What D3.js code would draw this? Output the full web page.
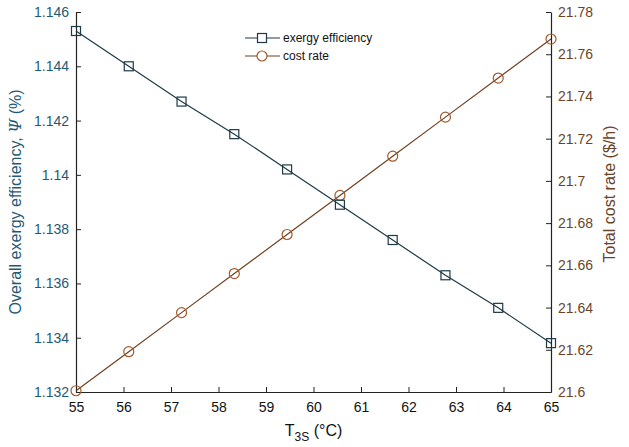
<!DOCTYPE html>
<html>
<head>
<meta charset="utf-8">
<script src="https://cdn.jsdelivr.net/npm/d3@7"></script>
<style>
  html, body { margin: 0; padding: 0; background: #fff; }
  svg { display: block; font-family: "Liberation Sans", Arial, sans-serif; }
</style>
</head>
<body>
<svg id="chart" width="629" height="447"></svg>
<script>
// Temperature T3S (°C) at ten evenly spaced points between 55 and 65
const temperature = [55, 56.111, 57.222, 58.333, 59.444, 60.556, 61.667, 62.778, 63.889, 65];
// Overall exergy efficiency (%)
const exergyEfficiency = [1.1453, 1.1440, 1.1427, 1.1415, 1.1402, 1.1389, 1.1376, 1.1363, 1.1351, 1.1338];
// Total cost rate ($/h)
const costRate = [21.6006, 21.6191, 21.6376, 21.6561, 21.6746, 21.6931, 21.7117, 21.7302, 21.7487, 21.7672];

const xTicks = [55, 56, 57, 58, 59, 60, 61, 62, 63, 64, 65];
const leftTicks = [1.132, 1.134, 1.136, 1.138, 1.14, 1.142, 1.144, 1.146];
const rightTicks = [21.6, 21.62, 21.64, 21.66, 21.68, 21.7, 21.72, 21.74, 21.76, 21.78];

const seriesNames = ["exergy efficiency", "cost rate"];

const leftColor = "#1f5a74";
const rightColor = "#6a4428";
const effLine = "#1d3a48";
const costLine = "#6e4122";
const costMarker = "#a05a2c";

const svg = d3.select("#chart");
const m = { left: 76, right: 551, top: 12, bottom: 392 };

const x = d3.scaleLinear().domain([55, 65]).range([m.left, m.right]);
const yL = d3.scaleLinear().domain([1.132, 1.146]).range([m.bottom, m.top]);
const yR = d3.scaleLinear().domain([21.6, 21.78]).range([m.bottom, m.top]);

const fmt = d => String(+d.toFixed(3));

// Bottom axis (ticks pointing into the plot)
const gx = svg.append("g").attr("transform", `translate(0,${m.bottom})`)
  .call(d3.axisBottom(x).tickValues(xTicks).tickSizeInner(-5).tickSizeOuter(0).tickPadding(10).tickFormat(d3.format("d")));
gx.select(".domain").attr("stroke", "#222").attr("stroke-width", 1.2);
gx.selectAll(".tick line").attr("stroke", "#222");
gx.selectAll("text").attr("font-size", 14).attr("fill", "#111");

// Left axis
const gl = svg.append("g").attr("transform", `translate(${m.left},0)`)
  .call(d3.axisLeft(yL).tickValues(leftTicks).tickSizeInner(-5).tickSizeOuter(0).tickPadding(7).tickFormat(fmt));
gl.select(".domain").attr("stroke", "#222").attr("stroke-width", 1.2);
gl.selectAll(".tick line").attr("stroke", "#222");
gl.selectAll("text").attr("font-size", 14).attr("fill", leftColor);

// Right axis
const gr = svg.append("g").attr("transform", `translate(${m.right},0)`)
  .call(d3.axisRight(yR).tickValues(rightTicks).tickSizeInner(-5).tickSizeOuter(0).tickPadding(7).tickFormat(fmt));
gr.select(".domain").attr("stroke", "#222").attr("stroke-width", 1.2);
gr.selectAll(".tick line").attr("stroke", "#222");
gr.selectAll("text").attr("font-size", 14).attr("fill", rightColor);

// Axis titles
const lt = svg.append("text")
  .attr("transform", `translate(21,${(m.top + m.bottom) / 2}) rotate(-90)`)
  .attr("text-anchor", "middle").attr("font-size", 16).attr("fill", leftColor);
lt.append("tspan").text("Overall exergy efficiency, ");
lt.append("tspan").attr("font-style", "italic").attr("font-family", "'DejaVu Serif', serif").text("\u03A8");
lt.append("tspan").text(" (%)");

svg.append("text")
  .attr("transform", `translate(615,${(m.top + m.bottom) / 2 - 8}) rotate(-90)`)
  .attr("text-anchor", "middle").attr("font-size", 16).attr("fill", rightColor)
  .text("Total cost rate ($/h)");

const xt = svg.append("text")
  .attr("x", x(60)).attr("y", 436).attr("text-anchor", "middle")
  .attr("font-size", 16).attr("fill", "#111");
xt.append("tspan").text("T");
xt.append("tspan").attr("dy", 5).attr("font-size", 12).text("3S");
xt.append("tspan").attr("dy", -5).text(" (\u00B0C)");

// Series
const effData = temperature.map((t, i) => [t, exergyEfficiency[i]]);
const costData = temperature.map((t, i) => [t, costRate[i]]);

svg.append("path").datum(costData)
  .attr("fill", "none").attr("stroke", costLine).attr("stroke-width", 1.2)
  .attr("d", d3.line().x(d => x(d[0])).y(d => yR(d[1])));

svg.append("path").datum(effData)
  .attr("fill", "none").attr("stroke", effLine).attr("stroke-width", 1.2)
  .attr("d", d3.line().x(d => x(d[0])).y(d => yL(d[1])));

svg.append("g").selectAll("circle").data(costData).join("circle")
  .attr("cx", d => x(d[0])).attr("cy", d => yR(d[1])).attr("r", 5)
  .attr("fill", "none").attr("stroke", costMarker).attr("stroke-width", 1.2);

svg.append("g").selectAll("rect").data(effData).join("rect")
  .attr("x", d => x(d[0]) - 4.5).attr("y", d => yL(d[1]) - 4.5)
  .attr("width", 9).attr("height", 9)
  .attr("fill", "none").attr("stroke", effLine).attr("stroke-width", 1.2);

// Legend
const lg = svg.append("g");
const rows = [
  { name: seriesNames[0], y: 38, stroke: effLine, marker: "square" },
  { name: seriesNames[1], y: 56, stroke: costLine, marker: "circle" }
];
rows.forEach(r => {
  lg.append("line").attr("x1", 245).attr("x2", 280).attr("y1", r.y).attr("y2", r.y)
    .attr("stroke", r.stroke).attr("stroke-width", 1.2);
  if (r.marker === "square") {
    lg.append("rect").attr("x", 262 - 4.5).attr("y", r.y - 4.5).attr("width", 9).attr("height", 9)
      .attr("fill", "#fff").attr("stroke", effLine).attr("stroke-width", 1.2);
  } else {
    lg.append("circle").attr("cx", 262).attr("cy", r.y).attr("r", 5)
      .attr("fill", "#fff").attr("stroke", costMarker).attr("stroke-width", 1.2);
  }
  lg.append("text").attr("x", 283).attr("y", r.y + 4).attr("font-size", 12).attr("fill", "#111").text(r.name);
});
</script>
</body>
</html>
